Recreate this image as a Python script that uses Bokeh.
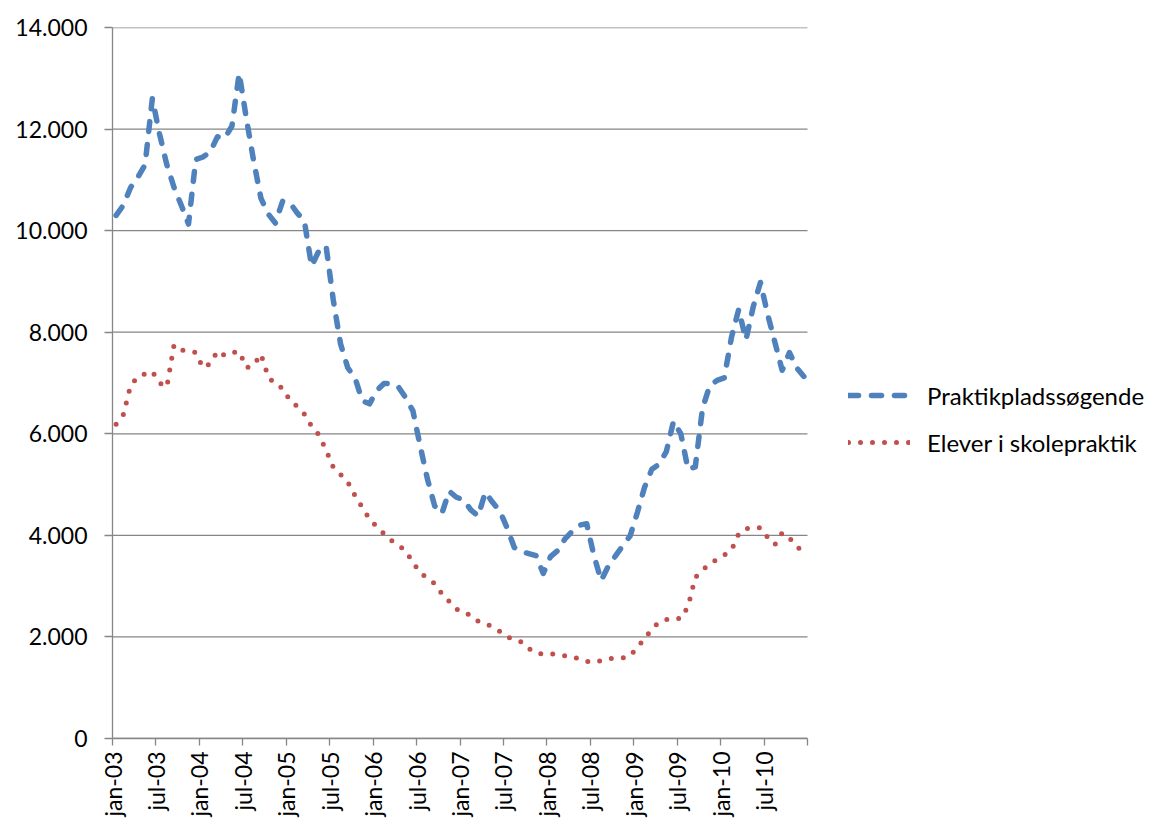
import numpy as np
from bokeh.plotting import figure
from bokeh.models import Range1d, FixedTicker, Legend, LegendItem
from bokeh.embed import file_html
from bokeh.resources import INLINE

# Monthly data jan-03 .. dec-10
praktik = [10300, 10500, 10850, 11050, 11300, 12600, 11900, 11300, 10850, 10500, 10130, 11400,
           11450, 11550, 11850, 11820, 12060, 13100, 12200, 11370, 10640, 10330, 10150, 10580,
           10550, 10350, 10190, 9300, 9600, 9700, 8630, 7770, 7300, 7100, 6650, 6590,
           6850, 6990, 6990, 6920, 6710, 6450, 5760, 5110, 4580, 4430, 4870, 4750,
           4700, 4500, 4380, 4850, 4650, 4480, 4150, 3760, 3680, 3640, 3600, 3250,
           3580, 3700, 3930, 4080, 4200, 4230, 3600, 3110, 3400, 3600, 3800, 3990,
           4450, 4950, 5300, 5400, 5650, 6250, 6000, 5300, 5350, 6500, 6950, 7050,
           7100, 7900, 8450, 7850, 8500, 8980, 8350, 7800, 7250, 7600, 7300, 7130]

skole = [6190, 6380, 6950, 7120, 7180, 7230, 7000, 6920, 7750, 7650, 7630, 7600,
         7300, 7380, 7630, 7540, 7600, 7620, 7300, 7350, 7570, 7130, 6960, 6900,
         6660, 6540, 6390, 6150, 5980, 5680, 5340, 5200, 5050, 4780, 4550, 4320,
         4170, 4030, 3900, 3810, 3690, 3470, 3260, 3160, 3050, 2850, 2700, 2550,
         2470, 2430, 2310, 2260, 2200, 2110, 2000, 1950, 1900, 1770, 1680, 1660,
         1670, 1650, 1630, 1610, 1570, 1520, 1500, 1530, 1570, 1580, 1590, 1620,
         1800, 1960, 2160, 2290, 2340, 2370, 2360, 2600, 3170, 3320, 3430, 3530,
         3610, 3710, 4030, 4130, 4160, 4150, 3960, 3820, 4050, 3950, 3780, 3670]

tick_labels = ["jan-03", "jul-03", "jan-04", "jul-04", "jan-05", "jul-05", "jan-06", "jul-06",
               "jan-07", "jul-07", "jan-08", "jul-08", "jan-09", "jul-09", "jan-10", "jul-10"]
y_ticks = [0, 2000, 4000, 6000, 8000, 10000, 12000, 14000]
series_names = ["Praktikpladssøgende", "Elever i skolepraktik"]

n = len(praktik)
x = list(range(n))

FONT = "Lato"
GRAY = "#868686"

# plot area: data part 695 px wide, the rest of the frame holds the legend
DATA_W = 695
FRAME_W = 1041
x_lo, x_hi = -0.5, n - 0.5
x_end = x_lo + (x_hi - x_lo) * FRAME_W / DATA_W

p = figure(frame_width=FRAME_W, frame_height=711,
           x_range=Range1d(x_lo, x_end), y_range=Range1d(0, 14000),
           output_backend="svg", toolbar_location=None,
           min_border_left=112, min_border_right=0, min_border_top=27, min_border_bottom=84)
p.outline_line_color = None
p.xgrid.grid_line_color = None
p.ygrid.grid_line_color = None

# horizontal gridlines limited to the data area
p.segment(x0=[x_lo] * len(y_ticks), x1=[x_hi] * len(y_ticks), y0=y_ticks, y1=y_ticks,
          line_color=GRAY, line_width=1.3)

# x axis: ticks at half-year boundaries
x_tick_pos = [i - 0.5 for i in range(0, n + 1, 6)]
overrides = {}
for k, pos in enumerate(x_tick_pos):
    overrides[pos] = tick_labels[k] if k < len(tick_labels) else ""
p.xaxis.ticker = FixedTicker(ticks=x_tick_pos)
p.xaxis.bounds = (x_lo, x_hi)
p.xaxis.major_label_overrides = overrides
p.xaxis.major_label_orientation = np.pi / 2
p.xaxis.minor_tick_line_color = None
p.xaxis.major_tick_in = 0
p.xaxis.major_tick_out = 7
p.xaxis.major_label_standoff = 6

p.yaxis.ticker = FixedTicker(ticks=y_ticks)
p.yaxis.major_label_overrides = {v: f"{v:,}".replace(",", ".") for v in y_ticks}
p.yaxis.minor_tick_line_color = None
p.yaxis.major_tick_in = 0
p.yaxis.major_tick_out = 8
p.yaxis.major_label_standoff = 17

for ax in (p.xaxis[0], p.yaxis[0]):
    ax.axis_line_color = GRAY
    ax.axis_line_width = 1.3
    ax.major_tick_line_color = GRAY
    ax.major_tick_line_width = 1.3
    ax.major_label_text_font = FONT
    ax.major_label_text_font_size = "23px"
    ax.major_label_text_color = "#000000"

r1 = p.line(x, praktik, line_color="#4F81BD", line_width=5.5, line_dash="10 13",
            line_cap="round", line_join="round")
r2 = p.line(x, skole, line_color="#C0504D", line_width=5, line_dash="0 12",
            line_cap="round", line_join="round")

legend = Legend(items=[LegendItem(label=series_names[0], renderers=[r1]),
                       LegendItem(label=series_names[1], renderers=[r2])],
                location=(736, 281), padding=0, margin=0, spacing=17,
                glyph_width=62, glyph_height=30, label_height=30, label_standoff=17,
                label_text_font=FONT, label_text_font_size="24px", label_text_color="#000000",
                border_line_alpha=0, background_fill_alpha=0)
p.add_layout(legend)

open("out.html", "w").write(file_html(p, INLINE))
